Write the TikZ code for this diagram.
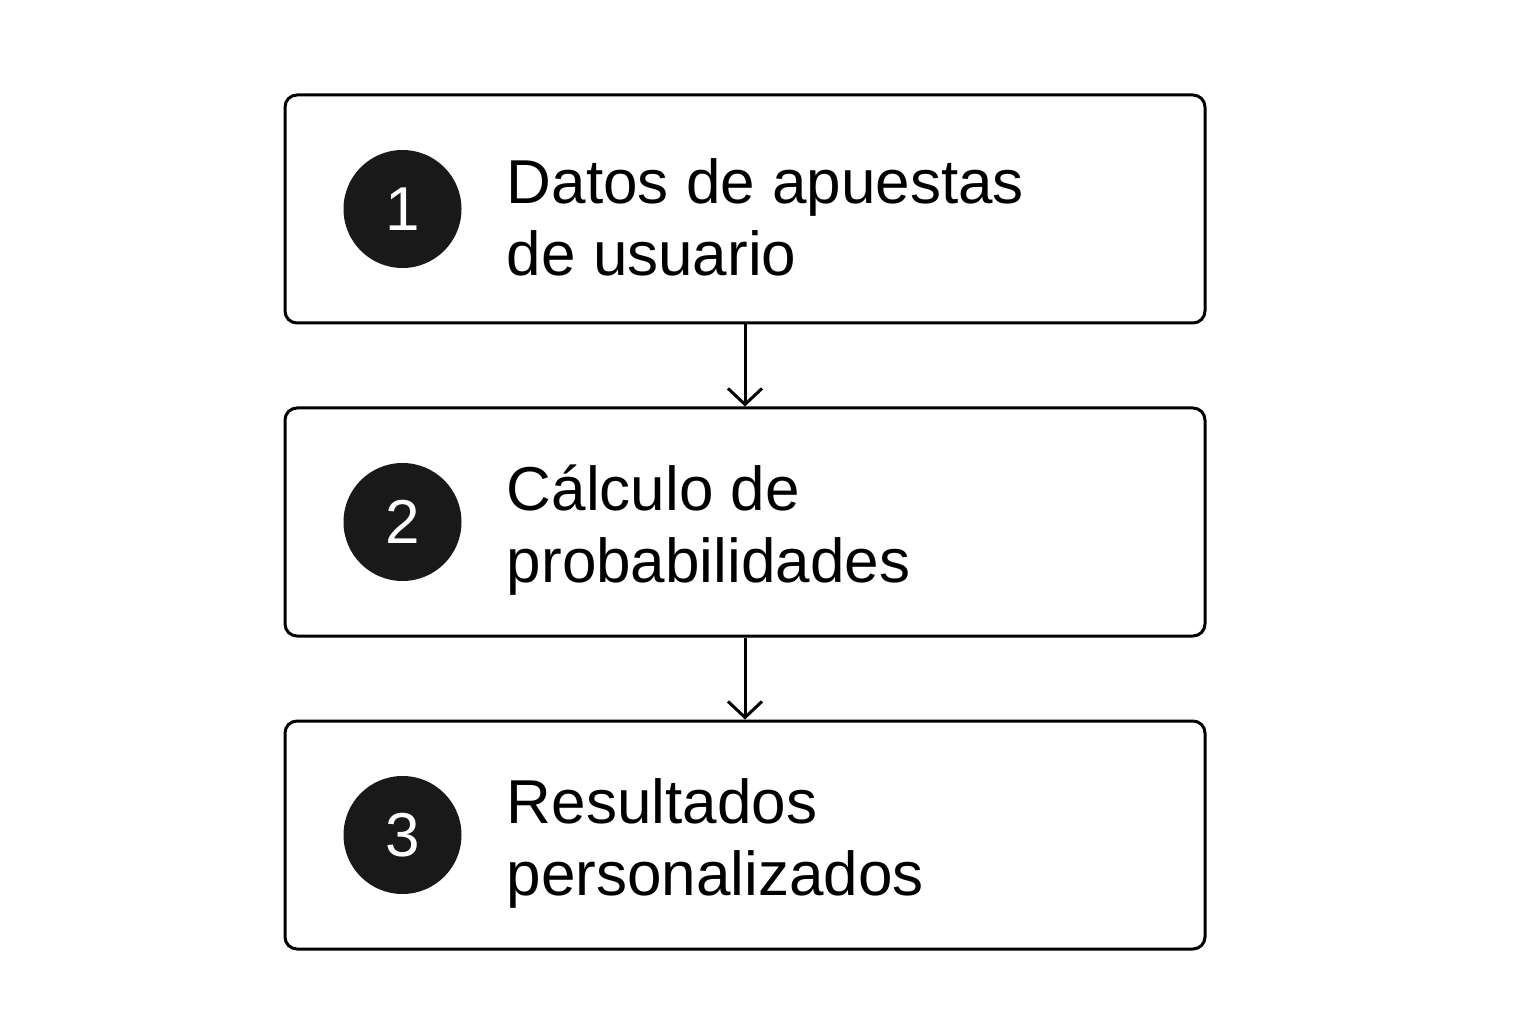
\documentclass[tikz,border=0pt]{standalone}
\usepackage{fontspec}
\setmainfont{Liberation Sans}
\usetikzlibrary{positioning,calc,arrows.meta}

\tikzset{
  stepbox/.style={draw, line width=1.5pt, rounded corners=6pt,
                  minimum width=460pt, minimum height=114pt},
  numdot/.style={circle, fill=black!90, text=white, minimum size=59pt,
                 inner sep=0pt, font=\fontsize{31}{31}\selectfont},
  steptext/.style={anchor=west, align=left, inner sep=0pt,
                   font=\fontsize{31}{36}\selectfont},
  flow/.style={line width=1.5pt, -{Straight Barb[length=8pt,width=17pt,line width=1.5pt]}}
}

\begin{document}
\begin{tikzpicture}[node distance=41pt]
  \useasboundingbox (0,0) rectangle (768pt,512pt);
  \node[stepbox] (box1) at (372.5pt,407.5pt) {};
  \node[stepbox, below=of box1] (box2) {};
  \node[stepbox, below=of box2] (box3) {};
  % numbers and labels
  \node[numdot] (num1) at ($(box1.west)+(59.5pt,0)$) {1};
  \node[numdot] (num2) at ($(box2.west)+(59.5pt,0)$) {2};
  \node[numdot] (num3) at ($(box3.west)+(59.5pt,0)$) {3};
  \node[steptext] (lab1) at ($(box1.west)+(111.5pt,-4pt)$) {Datos de apuestas\\de usuario};
  \node[steptext] (lab2) at ($(box2.west)+(111.5pt,-4pt)$) {Cálculo de\\probabilidades};
  \node[steptext] (lab3) at ($(box3.west)+(111.5pt,-4pt)$) {Resultados\\personalizados};
  % arrows
  \draw[flow] (box1) -- (box2);
  \draw[flow] (box2) -- (box3);
\end{tikzpicture}
\end{document}
